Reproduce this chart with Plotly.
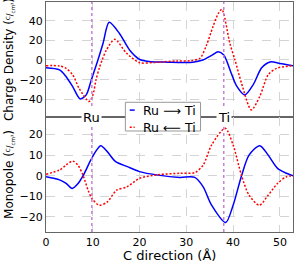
import plotly.graph_objects as go
from plotly.subplots import make_subplots

# ---- data ----
cd_fwd_x = [0, 2.9, 4.3, 5.7, 7.3, 8.6, 9.7, 11.1, 12.2, 13.5, 15.7, 17.9, 20, 22, 26, 31.4,
            33.5, 35.5, 36.8, 38.0, 39.6, 40.7, 42.5, 44.3, 46.1, 47.9, 50, 52.8]
cd_fwd_y = [-7.8, -10, -17, -27, -39.6, -35.5, -20, 0, 17, 38.3, 27, 10, 0.7, -1.5, -2.2, -2.2,
            0, 5, 8.4, 5, -13.5, -26, -35.5, -25, -8, -2, -3.5, -5.8]

cd_bwd_x = [0, 2.9, 4.3, 5.7, 7.1, 9.2, 10.0, 10.7, 11.4, 12.0, 12.9, 14.7, 17.2, 20, 23, 28, 31,
            32.9, 34.3, 35.7, 36.8, 37.6, 39.3, 40.4, 41.8, 43.9, 45.7, 47.5, 49.3, 52.8]
cd_bwd_y = [-5.8, -6.1, -8.5, -15, -29, -42.3, -36, -20, -8, 0, 10, 21, 7, -2.7, -2.5, -1, -0.7,
            1.7, 15, 34, 47, 51.5, 17, 0, -23.7, -50.8, -37, -15, -8.5, -5.8]

mp_fwd_x = [0, 2.9, 4.3, 5.6, 6.9, 8.0, 9.4, 10.6, 11.7, 13.1, 14.9, 17.4, 20, 24, 28.6, 31.8,
            33.6, 35.4, 38.4, 40, 41.8, 43.4, 45.7, 47.5, 49.5, 51.4, 52.8]
mp_fwd_y = [-0.5, -2, -3.7, -6.2, -3.7, 0.3, 6.8, 11.7, 14.6, 11.7, 6.8, 4.4, 2, 0.3, -0.8, -0.8,
            -5.4, -14.3, -22.7, -14.3, 0, 10, 14.6, 10, 3.6, 1.2, 0]

mp_bwd_x = [0, 2.9, 4.3, 5.7, 6.8, 7.9, 9.0, 9.8, 11.4, 13.1, 15.1, 17.3, 20, 24, 28.6, 31.8,
            33.6, 35.4, 38.3, 40, 41.8, 43.4, 45.6, 47.4, 49.5, 51.4, 52.8]
mp_bwd_y = [0.7, 2.8, 5.2, 7.1, 5.2, 0.3, -7, -11, -14.3, -12.7, -7, -5.4, -1.3, 0.5, 1.2, 1.5,
            5.2, 14.9, 23, 14.9, 0, -9.4, -14.3, -9.7, -3.7, -0.5, 0]

site_names = ["Ru", "Ti"]
site_pos = [9.8, 38.0]
legend_labels = ["Ru \u27f6 Ti", "Ru \u27f5 Ti"]
x_ticks = [0, 10, 20, 30, 40, 50]
x_title = "C direction (\u00c5)"

BLUE = "#0000ff"
RED = "#ff0000"
FONT = "DejaVu Sans"

fig = make_subplots(rows=2, cols=1, shared_xaxes=True, vertical_spacing=0)

line_fwd = dict(color=BLUE, width=1.5, shape="spline", smoothing=0.8)
line_bwd = dict(color=RED, width=1.5, dash="2px,1.8px", shape="spline", smoothing=0.8)

fig.add_trace(go.Scatter(x=cd_fwd_x, y=cd_fwd_y, mode="lines", line=line_fwd,
                         name=legend_labels[0], showlegend=False), row=1, col=1)
fig.add_trace(go.Scatter(x=cd_bwd_x, y=cd_bwd_y, mode="lines", line=line_bwd,
                         name=legend_labels[1], showlegend=False), row=1, col=1)
fig.add_trace(go.Scatter(x=mp_fwd_x, y=mp_fwd_y, mode="lines", line=line_fwd,
                         showlegend=False), row=2, col=1)
fig.add_trace(go.Scatter(x=mp_bwd_x, y=mp_bwd_y, mode="lines", line=line_bwd,
                         showlegend=False), row=2, col=1)

axis_common = dict(showline=True, linecolor="#666666", linewidth=1, mirror=True,
                   showgrid=True, gridcolor="#d4d4d4", griddash="dash", gridwidth=1,
                   zeroline=False, ticks="", automargin=False,
                   tickfont=dict(family=FONT, size=11, color="#000"))

frac = "(<span style='font-size:8px'><sup>C</sup>/<sub>cm\u00b3</sub></span>)"

fig.update_xaxes(range=[0, 52.8], tickvals=x_ticks, **axis_common)
fig.update_yaxes(**axis_common)
fig.update_yaxes(range=[-58, 59], tickvals=[-40, -20, 0, 20, 40], row=1, col=1,
                 title=dict(text="Charge Density " + frac,
                            font=dict(family=FONT, size=12, color="#000"), standoff=3))
fig.update_yaxes(range=[-27.3, 28.5], tickvals=[-20, -10, 0, 10, 20], row=2, col=1,
                 title=dict(text="Monopole " + frac,
                            font=dict(family=FONT, size=12, color="#000"), standoff=3))

shapes = []
annotations = []
for name, pos in zip(site_names, site_pos):
    shapes.append(dict(type="line", xref="x2", yref="paper", x0=pos, x1=pos, y0=0, y1=1,
                       line=dict(color="#c77fd8", width=1.5, dash="dot"), layer="above"))
    annotations.append(dict(x=pos, y=0.5, xref="x2", yref="paper", text=name, showarrow=False,
                            bgcolor="white", font=dict(family=FONT, size=13, color="#000"),
                            borderpad=1, xanchor="center", yanchor="middle"))

# x-axis title placed just under the tick labels, as in the reference
annotations.append(dict(x=0.5, y=-0.104, xref="paper", yref="paper", text=x_title,
                        showarrow=False, xanchor="center", yanchor="middle",
                        font=dict(family=FONT, size=13, color="#000")))

# legend box (drawn manually to match the compact reference legend)
shapes.append(dict(type="rect", xref="paper", yref="paper", x0=0.3213, x1=0.6256, y0=0.4391,
                   y1=0.5639, fillcolor="white", line=dict(color="#999999", width=1), layer="above"))
shapes.append(dict(type="line", xref="paper", yref="paper", x0=0.339, x1=0.359, y0=0.530, y1=0.530,
                   line=dict(color=BLUE, width=1.5), layer="above"))
shapes.append(dict(type="line", xref="paper", yref="paper", x0=0.339, x1=0.359, y0=0.455, y1=0.455,
                   line=dict(color=RED, width=1.5, dash="2px,1.8px"), layer="above"))
for lbl, yy in zip(legend_labels, [0.530, 0.455]):
    annotations.append(dict(x=0.383, y=yy, xref="paper", yref="paper", text=lbl, showarrow=False,
                            xanchor="left", yanchor="middle",
                            font=dict(family=FONT, size=12.5, color="#000")))

fig.update_layout(width=295, height=261, margin=dict(l=46, r=2, t=2, b=29),
                  paper_bgcolor="white", plot_bgcolor="white", showlegend=False,
                  shapes=shapes, annotations=annotations,
                  font=dict(family=FONT, color="#000"))

fig.write_html("out.html", config={"displayModeBar": False},
               post_script="document.body.style.margin='0';")
